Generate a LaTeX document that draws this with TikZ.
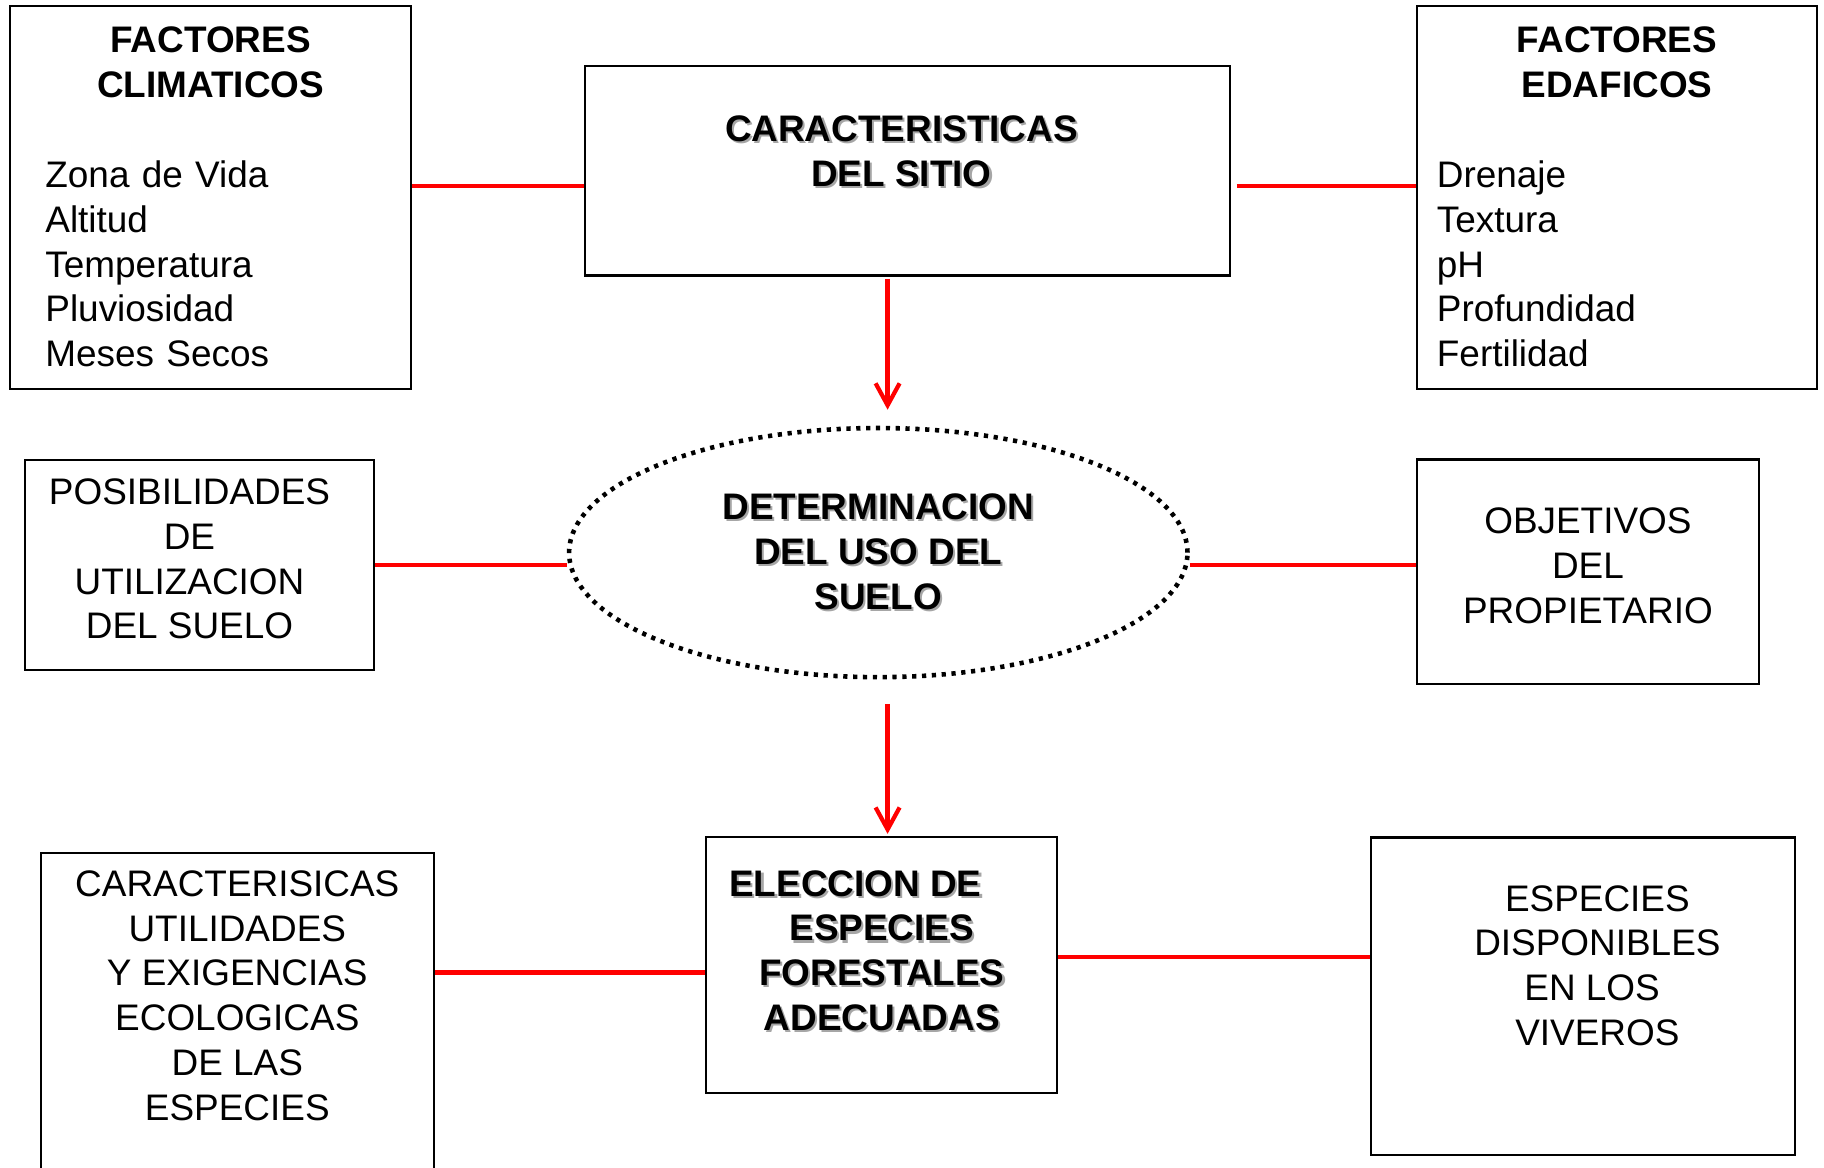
\documentclass[tikz,border=0pt]{standalone}
\usepackage{fontspec}
\setmainfont{Liberation Sans}
\usepackage{tikz}
\usetikzlibrary{arrows.meta, shapes.geometric}
\newcommand\titulo[1]{\makebox[\linewidth]{\bfseries #1}}
\newcommand\sombra[1]{\leavevmode\rlap{\kern0.6pt\raisebox{-0.6pt}{\color{black!35}#1}}#1}
\tikzset{
  box/.style    ={draw, line width=0.6pt, align=center,
                  font=\fontsize{10.5}{12.75}\selectfont},
  lista/.style  ={box, align=left, minimum width=4.00cm, minimum height=3.83cm},
  clave/.style  ={box, font=\fontsize{10.5}{12.75}\selectfont\bfseries},
  elipse/.style ={ellipse, draw, line width=1.3pt, dash pattern=on 1.2pt off 1.6pt,
                  inner sep=0pt, align=center,
                  font=\fontsize{10.5}{12.75}\selectfont\bfseries},
  link/.style   ={red, line width=1.2pt},
  arr/.style    ={-{Straight Barb[length=2.2mm, width=2.4mm]}, red, line width=1.2pt},
}
\begin{document}
\begin{tikzpicture}[x=0.01cm, y=-0.01cm]
  \useasboundingbox (0,0) rectangle (1824,1168);

  \node[lista, text width=3.30cm] (clim) at (210.5,197.2)
       {\titulo{FACTORES}\\ \titulo{CLIMATICOS}\\[12.75pt]
        Zona de Vida\\ Altitud\\ Temperatura\\ Pluviosidad\\ Meses Secos};
  \node[clave, minimum width=6.45cm, minimum height=2.09cm, text depth=0.40cm]
       (sitio) at (907.4,171)
       {\hspace*{-3.4pt}\sombra{CARACTERISTICAS}\\ \hspace*{-3.4pt}\sombra{DEL SITIO}};
  \node[lista, text width=3.60cm] (edaf) at (1617,197.2)
       {\titulo{FACTORES}\\ \titulo{EDAFICOS}\\[12.75pt]
        Drenaje\\ Textura\\ pH\\ Profundidad\\ Fertilidad};

  \node[box, minimum width=3.48cm, minimum height=2.10cm, text depth=0.12cm]
       (pos) at (199.5,564.8)
       {\hspace*{-5.7pt}POSIBILIDADES\\ \hspace*{-5.7pt}DE\\
        \hspace*{-5.7pt}UTILIZACION\\ \hspace*{-5.7pt}DEL SUELO};
  \node[elipse, minimum width=6.18cm, minimum height=2.49cm] (det) at (878.3,552.6)
       {\sombra{DETERMINACION}\\ \sombra{DEL USO DEL}\\ \sombra{SUELO}};
  \node[box, minimum width=3.42cm, minimum height=2.245cm, text depth=0.12cm]
       (obj) at (1587.9,571.8) {OBJETIVOS\\ DEL\\ PROPIETARIO};

  \node[box, minimum width=3.93cm, minimum height=3.77cm, text depth=0.92cm]
       (car) at (237.3,1041.4)
       {CARACTERISICAS\\ UTILIDADES\\ Y EXIGENCIAS\\ ECOLOGICAS\\ DE LAS\\ ESPECIES};
  \node[clave, minimum width=3.51cm, minimum height=2.55cm, text depth=0.29cm]
       (elec) at (881.8,965)
       {\hspace*{-15pt}\sombra{ELECCION DE}\\ \sombra{ESPECIES}\\
        \sombra{FORESTALES}\\ \sombra{ADECUADAS}};
  \node[box, minimum width=4.235cm, minimum height=3.175cm, text depth=0.62cm]
       (esp) at (1583.3,996.4)
       {\hspace*{8pt}ESPECIES\\ \hspace*{8pt}DISPONIBLES\\
        \hspace*{5pt}EN LOS\\ \hspace*{8pt}VIVEROS};

  \coordinate (s1) at ([yshift=-0.151cm]sitio.west);
  \coordinate (s2) at ([yshift=-0.151cm, xshift=0.058cm]sitio.east);
  \coordinate (a1) at ([xshift=-0.198cm]sitio.south);
  \coordinate (e1) at ([yshift=-0.075cm]elec.west);
  \coordinate (e2) at ([yshift=0.076cm]elec.east);

  \draw[link] (s1) -- (s1 -| clim.east);
  \draw[link] (s2) -- (s2 -| edaf.west);
  \draw[arr, shorten <=0.02cm, shorten >=0.16cm] (a1) -- (a1 |- det.north);
  \draw[link] (pos.east) -- (pos.east -| det.west);
  \draw[link] (det.east |- pos.east) -- (obj.west |- pos.east);
  \draw[arr, shorten <=0.245cm, shorten >=0.025cm] (a1 |- det.south) -- (a1 |- elec.north);
  \draw[link] (e1) -- (e1 -| car.east);
  \draw[link] (e2) -- (e2 -| esp.west);
\end{tikzpicture}
\end{document}
